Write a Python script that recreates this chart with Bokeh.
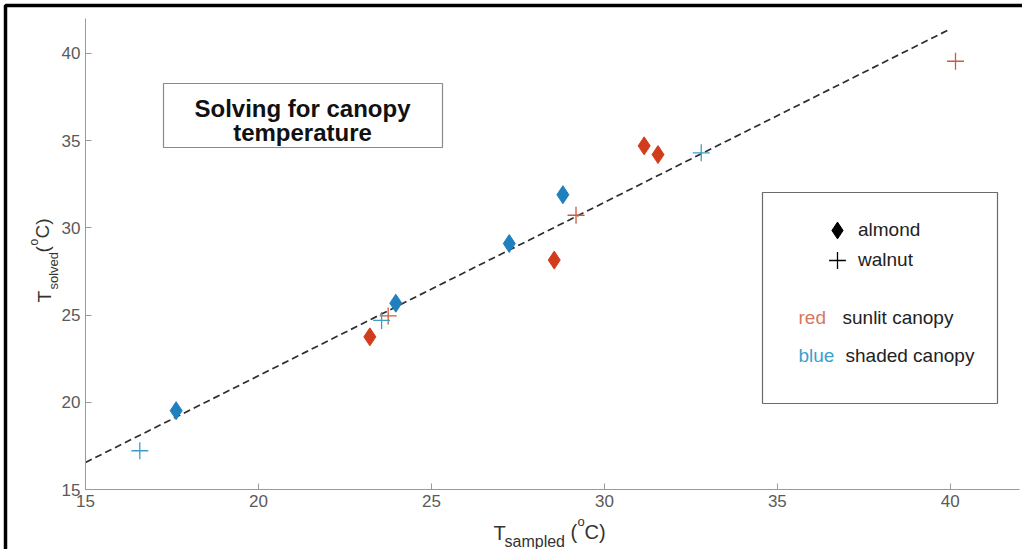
from bokeh.plotting import figure
from bokeh.models import (Label, BoxAnnotation, FixedTicker, Range1d, Legend,
                          LegendItem, ColumnDataSource)
from bokeh.embed import file_html
from bokeh.resources import INLINE
import math

# ---------------- data ----------------
almond_sunlit_x = [23.22, 28.55, 31.15, 31.55]
almond_sunlit_y = [23.75, 28.15, 34.7, 34.2]
almond_shaded_x = [17.62, 23.97, 27.25, 28.8]
almond_shaded_y = [19.52, 25.68, 29.1, 31.9]
walnut_sunlit_x = [23.75, 29.18, 40.15]
walnut_sunlit_y = [24.95, 30.72, 39.55]
walnut_shaded_x = [16.57, 23.56, 32.8]
walnut_shaded_y = [17.22, 24.69, 34.3]
fit_x = [15.0, 40.0]
fit_y = [16.55, 41.4]
x_ticks = [15, 20, 25, 30, 35, 40]
y_ticks = [15, 20, 25, 30, 35, 40]
axis_min, axis_max = 15.0, 42.0

# ---------------- layout constants ----------------
W, H = 1022, 549
FL, FB = 85, 489            # axes origin (15, 15) in canvas px
SX = 934 / 27.0             # px per unit, x
SY = 471 / 27.0             # px per unit, y


def dx(px):
    return axis_min + (px - FL) / SX


def dy(py):
    return axis_min + (FB - py) / SY


FONT = "Liberation Sans"
RED_D = "#d23c1c"
BLUE_D = "#1f80c0"
RED_P = "#cc5a3c"
BLUE_P = "#3a9ec8"

p = figure(width=W, height=H,
           x_range=Range1d(dx(0), dx(W)), y_range=Range1d(dy(H), dy(0)),
           output_backend="svg", toolbar_location=None,
           min_border_left=0, min_border_right=0, min_border_top=0,
           min_border_bottom=0)
p.xgrid.visible = False
p.ygrid.visible = False
p.outline_line_color = None
p.background_fill_color = "white"
p.border_fill_color = "white"

for ax, ticks in ((p.xaxis, x_ticks), (p.yaxis, y_ticks)):
    ax.ticker = FixedTicker(ticks=ticks)
    ax.fixed_location = axis_min
    ax.bounds = (axis_min, axis_max)
    ax.major_tick_in = 6
    ax.major_tick_out = 0
    ax.minor_tick_in = 0
    ax.minor_tick_out = 0
    ax.axis_line_color = "#9a9a9a"
    ax.major_tick_line_color = "#9a9a9a"
    ax.major_label_text_font = FONT
    ax.major_label_text_font_size = "17px"
    ax.major_label_text_color = "#5a5a5a"
    ax.major_label_standoff = 5

# fit line
p.line(fit_x, fit_y, line_color="#2e2e2e", line_width=1.7, line_dash="7 4")

# data points
p.scatter(almond_sunlit_x, almond_sunlit_y, marker="diamond", size=18,
          fill_color=RED_D, line_color=RED_D)
p.scatter(almond_shaded_x, almond_shaded_y, marker="diamond", size=18,
          fill_color=BLUE_D, line_color=BLUE_D)
p.scatter(walnut_sunlit_x, walnut_sunlit_y, marker="cross", size=17,
          line_color=RED_P, line_width=1.3)
p.scatter(walnut_shaded_x, walnut_shaded_y, marker="cross", size=17,
          line_color=BLUE_P, line_width=1.3)

# outer black frame of the picture (top and left edges visible)
p.add_layout(BoxAnnotation(left=dx(5), right=dx(W + 40), top=dy(5), bottom=dy(H + 40),
                           fill_alpha=0, line_color="black", line_alpha=1.0,
                           line_width=3.5))

# title box
p.add_layout(BoxAnnotation(left=dx(163), right=dx(442), top=dy(83), bottom=dy(147),
                           fill_color="white", fill_alpha=1.0,
                           line_color="#8a8a8a", line_alpha=1.0, line_width=1.2))
for txt, by in (("Solving for canopy", 108), ("temperature", 132)):
    p.add_layout(Label(x=dx(302), y=dy(by), text=txt, text_font=FONT,
                       text_font_size="24px", text_font_style="bold",
                       text_color="#111111", text_align="center",
                       text_baseline="alphabetic"))

# legend box
p.add_layout(BoxAnnotation(left=dx(762), right=dx(997), top=dy(192), bottom=dy(403),
                           fill_color="white", fill_alpha=1.0,
                           line_color="#6a6a6a", line_alpha=1.0, line_width=1.2))
nan_src = ColumnDataSource(dict(x=[float("nan")], y=[float("nan")]))
r_alm = p.scatter("x", "y", source=nan_src, marker="diamond", size=18,
                  fill_color="black", line_color="black")
r_wal = p.scatter("x", "y", source=nan_src, marker="cross", size=17,
                  line_color="black", line_width=1.3)
for lab, rend, cy in (("almond", r_alm, 230), ("walnut", r_wal, 260)):
    leg = Legend(items=[LegendItem(label=lab, renderers=[rend])],
                 location=(837 - 21, H - (cy + 21)), padding=0, margin=0, spacing=0,
                 glyph_width=42, glyph_height=42, label_height=42,
                 label_standoff=0, border_line_alpha=0, background_fill_alpha=0,
                 label_text_font=FONT, label_text_font_size="19px",
                 label_text_color="#222222")
    p.add_layout(leg)

for word, wcol, desc, by, dxp in (("red", "#d8765c", "sunlit canopy", 317, 842),
                                  ("blue", "#3b9fd0", "shaded canopy", 355, 845)):
    p.add_layout(Label(x=dx(798), y=dy(by), text=word, text_font=FONT,
                       text_font_size="19px", text_color=wcol,
                       text_baseline="alphabetic"))
    p.add_layout(Label(x=dx(dxp), y=dy(by), text=desc, text_font=FONT,
                       text_font_size="19px", text_color="#222222",
                       text_baseline="alphabetic"))

# x axis title: T_sampled (°C)
TITLE_COL = "#333333"
for txt, lx, by, fs in (("T", 493, 532, "20px"), ("sampled", 504, 541, "16px"),
                        ("(", 570, 531, "20px"), ("o", 577, 521, "13px"),
                        ("C)", 584, 531, "20px")):
    p.add_layout(Label(x=dx(lx), y=dy(by), text=txt, text_font=FONT,
                       text_font_size=fs, text_color=TITLE_COL,
                       text_baseline="alphabetic"))

# y axis title: T_solved (°C), rotated
for txt, bx, sy, fs in (("T", 44, 302, "19px"), ("solved", 53, 289, "13px"),
                        ("(", 42, 252, "19px"), ("o", 33, 245, "12px"),
                        ("C)", 42, 238, "19px")):
    p.add_layout(Label(x=dx(bx), y=dy(sy), text=txt, text_font=FONT,
                       text_font_size=fs, text_color=TITLE_COL,
                       text_baseline="alphabetic", angle=math.pi / 2))

open("out.html", "w").write(file_html(p, INLINE))
